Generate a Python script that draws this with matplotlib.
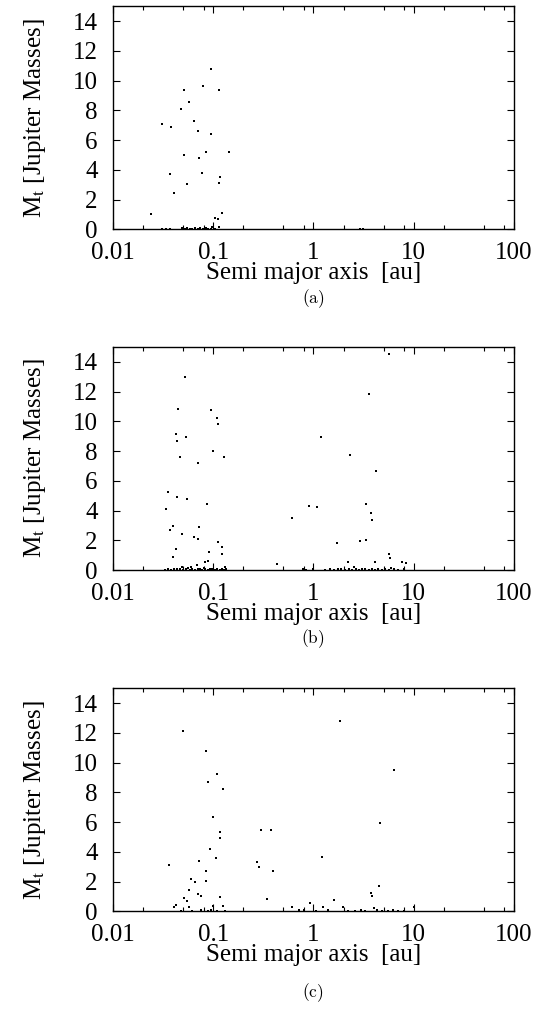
import matplotlib
matplotlib.use("Agg")
import matplotlib.pyplot as plt
from matplotlib.ticker import LogLocator, NullFormatter

plt.rcParams['font.family'] = ['Liberation Serif', 'DejaVu Serif']
plt.rcParams['mathtext.fontset'] = 'stix'

# panel (a)
a_x = [0.0239, 0.0308, 0.0379, 0.0373, 0.0403, 0.0477, 0.0516, 0.0579, 0.0512, 0.0548,
       0.064, 0.0707, 0.0713, 0.0764, 0.0788, 0.0844, 0.094, 0.0955, 0.113, 0.116,
       0.114, 0.144, 0.105, 0.111, 0.121, 0.115,
       0.031, 0.034, 0.037, 0.049, 0.052, 0.055, 0.058, 0.062, 0.066, 0.070,
       0.074, 0.079, 0.084, 0.089, 0.094, 0.098, 0.103, 2.9, 3.1]
a_y = [1.0, 7.07, 6.85, 3.74, 2.46, 8.1, 9.4, 8.57, 4.99, 3.06,
       7.27, 6.6, 4.81, 3.78, 9.62, 5.21, 6.4, 10.78, 9.35, 3.53,
       3.13, 5.21, 0.76, 0.66, 1.12, 0.18,
       0.03, 0.02, 0.05, 0.08, 0.03, 0.1, 0.05, 0.02, 0.06, 0.04,
       0.1, 0.03, 0.07, 0.02, 0.05, 0.12, 0.03, 0.05, 0.02]

# panel (b)
b_x = [0.0528, 0.0442, 0.0425, 0.0439, 0.0536, 0.0463, 0.0702, 0.094, 0.108, 0.112,
       0.1, 0.127, 0.0356, 0.0338, 0.0439, 0.0544, 0.0857, 0.0397, 0.0373, 0.0489,
       0.064, 0.0702, 0.0724, 0.112, 0.123, 0.123, 0.0915, 0.0422, 0.0397, 0.0835,
       0.0895, 0.069, 0.0484, 0.06, 0.0813, 0.131, 0.428,
       5.69, 3.57, 1.18, 2.29, 4.19, 0.61, 0.90, 1.08, 3.38, 3.71,
       3.85, 1.71, 2.88, 3.31, 5.61, 5.82, 2.19, 4.09, 7.6, 8.28,
       2.55, 5.87,
       0.033, 0.035, 0.038, 0.041, 0.044, 0.047, 0.050, 0.053, 0.056, 0.059,
       0.062, 0.066, 0.070, 0.074, 0.078, 0.083, 0.088, 0.093, 0.098, 0.104,
       0.110, 0.116, 0.122, 0.128, 0.135,
       0.78, 0.85, 1.0, 1.3, 1.45, 1.6, 1.75, 1.9, 2.05, 2.25,
       2.45, 2.65, 2.85, 3.05, 3.3, 3.55, 3.8, 4.1, 4.4, 4.8,
       5.2, 5.7, 6.3, 7.0, 8.0]
b_y = [12.99, 10.82, 9.18, 8.67, 8.96, 7.59, 7.17, 10.75, 10.26, 9.81,
       8.02, 7.62, 5.24, 4.10, 4.93, 4.75, 4.46, 2.96, 2.69, 2.40,
       2.22, 2.08, 2.91, 1.86, 1.52, 1.08, 1.23, 1.39, 0.90, 0.57,
       0.60, 0.31, 0.2, 0.18, 0.11, 0.18, 0.40,
       14.56, 11.83, 8.96, 7.71, 6.68, 3.52, 4.32, 4.21, 4.46, 3.83,
       3.36, 1.84, 1.93, 2.0, 1.10, 0.81, 0.51, 0.51, 0.51, 0.46,
       0.2, 0.17,
       0.03, 0.06, 0.02, 0.08, 0.04, 0.1, 0.02, 0.05, 0.12, 0.03,
       0.07, 0.02, 0.09, 0.04, 0.02, 0.06, 0.03, 0.1, 0.05, 0.02,
       0.08, 0.03, 0.06, 0.02, 0.1,
       0.05, 0.02, 0.08, 0.03, 0.06, 0.02, 0.1, 0.04, 0.02, 0.07,
       0.03, 0.05, 0.02, 0.09, 0.04, 0.02, 0.06, 0.03, 0.08, 0.02,
       0.05, 0.03, 0.07, 0.02, 0.04]

# panel (c)
c_x = [0.0496, 0.0838, 0.109, 0.0877, 0.126, 0.1, 0.116, 0.116, 0.0918, 0.107,
       0.0359, 0.0718, 0.0845, 0.0851, 0.0598, 0.0663, 0.0572, 0.0697, 0.0758, 0.117,
       0.051, 0.055, 0.0422, 0.0408, 0.0571, 0.1, 0.124,
       0.298, 0.373, 0.272, 0.287, 0.391, 0.34, 1.86, 6.43, 4.56, 1.23,
       4.52, 3.71, 3.85, 1.6, 0.915, 0.605, 1.25, 1.95, 4.0, 10.0,
       0.048, 0.062, 0.075, 0.088, 0.095, 0.11, 0.13,
       0.72, 0.8, 1.05, 1.4, 2.2, 2.6, 3.0, 3.3, 4.3, 4.8, 5.5, 6.2, 7.0, 8.0]
c_y = [12.13, 10.76, 9.26, 8.68, 8.21, 6.35, 5.35, 4.94, 4.18, 3.58,
       3.11, 3.38, 2.73, 2.06, 2.16, 1.96, 1.45, 1.15, 1.04, 0.97,
       0.92, 0.70, 0.44, 0.29, 0.29, 0.34, 0.34,
       5.46, 5.47, 3.33, 3.0, 2.71, 0.85, 12.83, 9.51, 5.92, 3.68,
       1.69, 1.26, 1.02, 0.78, 0.55, 0.32, 0.26, 0.32, 0.25, 0.3,
       0.05, 0.03, 0.08, 0.04, 0.06, 0.03, 0.05,
       0.06, 0.12, 0.04, 0.08, 0.05, 0.03, 0.07, 0.04, 0.06, 0.03, 0.05, 0.08, 0.03, 0.05]

panels = [(a_x, a_y, '(a)'), (b_x, b_y, '(b)'), (c_x, c_y, '(c)')]
bottoms = [0.773, 0.4356, 0.0977]
caption_y = [0.704, 0.368, 0.017]

fig = plt.figure(figsize=(5.37, 10.10), dpi=100)

for (xs, ys, cap), b, cy in zip(panels, bottoms, caption_y):
    ax = fig.add_axes([0.2104, b, 0.7467, 0.2208])
    ax.scatter(xs, ys, s=3, c='black', marker='s', linewidths=0)
    ax.set_xscale('log')
    ax.set_xlim(0.01, 100)
    ax.set_ylim(0, 15)
    ax.set_yticks([0, 2, 4, 6, 8, 10, 12, 14])
    ax.set_xticks([0.01, 0.1, 1, 10, 100])
    ax.set_xticklabels(['0.01', '0.1', '1', '10', '100'])
    ax.xaxis.set_minor_locator(LogLocator(base=10, subs=[2, 5, 8]))
    ax.xaxis.set_minor_formatter(NullFormatter())
    ax.tick_params(which='both', direction='in', top=True, right=True, width=0.8)
    ax.tick_params(which='major', length=5, labelsize=18)
    ax.tick_params(which='minor', length=3)
    ax.tick_params(axis='x', pad=9)
    ax.tick_params(axis='y', pad=11)
    for sp in ax.spines.values():
        sp.set_linewidth(1.0)
    ax.set_xlabel('Semi major axis  [au]', fontsize=18, labelpad=-1)
    ax.set_ylabel(r'M$_\mathrm{t}$ [Jupiter Masses]', fontsize=18, labelpad=18)
    fig.text(0.583, cy, r'$\mathrm{' + cap + '}$', ha='center', va='center',
             fontsize=12.5, math_fontfamily='cm')

fig.savefig('out.png', dpi=100)
